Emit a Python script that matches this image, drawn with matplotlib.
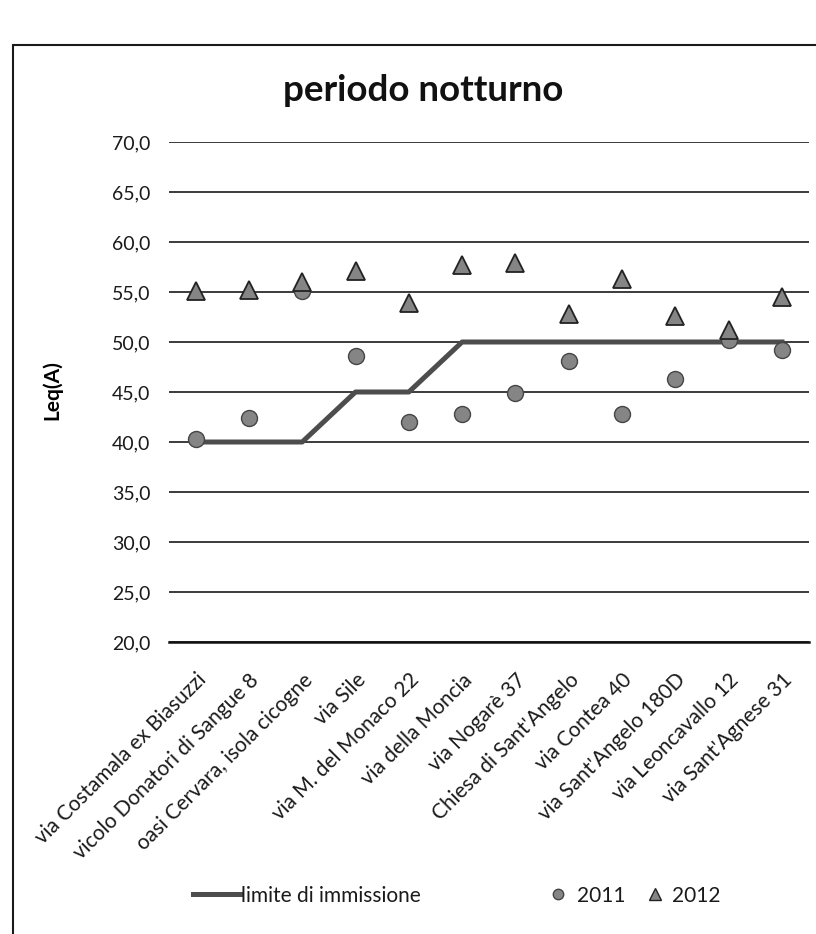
import numpy as np
import matplotlib
matplotlib.use('Agg')
import matplotlib.pyplot as plt
from matplotlib.ticker import FuncFormatter, MultipleLocator
from matplotlib.lines import Line2D
from matplotlib.patches import Rectangle

plt.rcParams['font.family'] = ['Lato', 'DejaVu Sans']

# punti di misura
siti = ['via Costamala ex Biasuzzi', 'vicolo Donatori di Sangue 8',
        'oasi Cervara, isola cicogne', 'via Sile', 'via M. del Monaco 22',
        'via della Moncia', 'via Nogarè 37', "Chiesa di Sant'Angelo",
        'via Contea 40', "via Sant'Angelo 180D", 'via Leoncavallo 12',
        "via Sant'Agnese 31"]
limite = [40, 40, 40, 45, 45, 50, 50, 50, 50, 50, 50, 50]
leq_2011 = [40.3, 42.4, 55.1, 48.6, 42.0, 42.8, 44.9, 48.1, 42.8, 46.3, 50.2, 49.2]
leq_2012 = [55.1, 55.2, 56.0, 57.1, 53.9, 57.7, 57.9, 52.8, 56.3, 52.6, 51.2, 54.5]

COL_LIM = '#4d4d4d'
COL_MK = '#858585'

x = np.arange(len(siti))

fig = plt.figure(figsize=(8.16, 9.34), dpi=100)
ax = fig.add_axes([0.207, 0.3126, 0.784, 0.5354])

# cornice del grafico
fig.patches.append(Rectangle((0.016, -0.01), 1.0, 0.962, transform=fig.transFigure,
                             fill=False, edgecolor='#1a1a1a', linewidth=1.5))

ax.plot(x, limite, color=COL_LIM, linewidth=3.6, zorder=3)
ax.plot(x, leq_2011, linestyle='none', marker='o', markersize=11.5,
        markerfacecolor=COL_MK, markeredgecolor='#454545', markeredgewidth=1.0, zorder=4)
ax.plot(x, leq_2012, linestyle='none', marker='^', markersize=12.5,
        markerfacecolor=COL_MK, markeredgecolor='#222222', markeredgewidth=1.3, zorder=4)

ax.set_xlim(-0.5, len(siti) - 0.5)
ax.set_ylim(20, 70)
ax.yaxis.set_major_locator(MultipleLocator(5))
ax.yaxis.set_major_formatter(FuncFormatter(lambda v, p: ('%.1f' % v).replace('.', ',')))
ax.grid(axis='y', color='#1a1a1a', linewidth=1.2)
ax.set_axisbelow(True)
for s in ['top', 'right', 'left']:
    ax.spines[s].set_visible(False)
ax.spines['bottom'].set_color('#111111')
ax.spines['bottom'].set_linewidth(1.8)
ax.tick_params(axis='y', length=0, pad=13.5, labelsize=14, colors='#1a1a1a')
ax.tick_params(axis='x', length=0, pad=20)
ax.set_xticks(x)
ax.set_xticklabels(siti, rotation=45, ha='right', va='top', rotation_mode='anchor',
                   fontsize=15, color='#1a1a1a')

ax.set_ylabel('Leq(A)', fontsize=15, fontweight='bold')
ax.yaxis.set_label_coords(-0.167, 0.504)

fig.text(0.519, 0.903, 'periodo notturno', ha='center', va='center',
         fontsize=26.5, fontweight='bold', color='#111111')

# legenda: tre voci posizionate come nell'originale
h_lim = Line2D([0], [0], color=COL_LIM, linewidth=3.6)
h_11 = Line2D([0], [0], linestyle='none', marker='o', markersize=7.5,
              markerfacecolor=COL_MK, markeredgecolor='#454545')
h_12 = Line2D([0], [0], linestyle='none', marker='^', markersize=8,
              markerfacecolor=COL_MK, markeredgecolor='#222222')
leg_y = 0.041
for h, lab, x0, hl, tp in [(h_lim, 'limite di immissione', 193, 2.26, 0.05),
                           (h_11, '2011', 548, 1.0, 0.4),
                           (h_12, '2012', 645, 1.0, 0.3)]:
    leg = fig.legend([h], [lab], loc='center left', bbox_to_anchor=(x0 / 816, leg_y),
                     frameon=False, fontsize=15, handlelength=hl, handletextpad=tp,
                     borderpad=0, borderaxespad=0)
    for t in leg.get_texts():
        t.set_color('#1a1a1a')

fig.savefig('out.png', dpi=100)
